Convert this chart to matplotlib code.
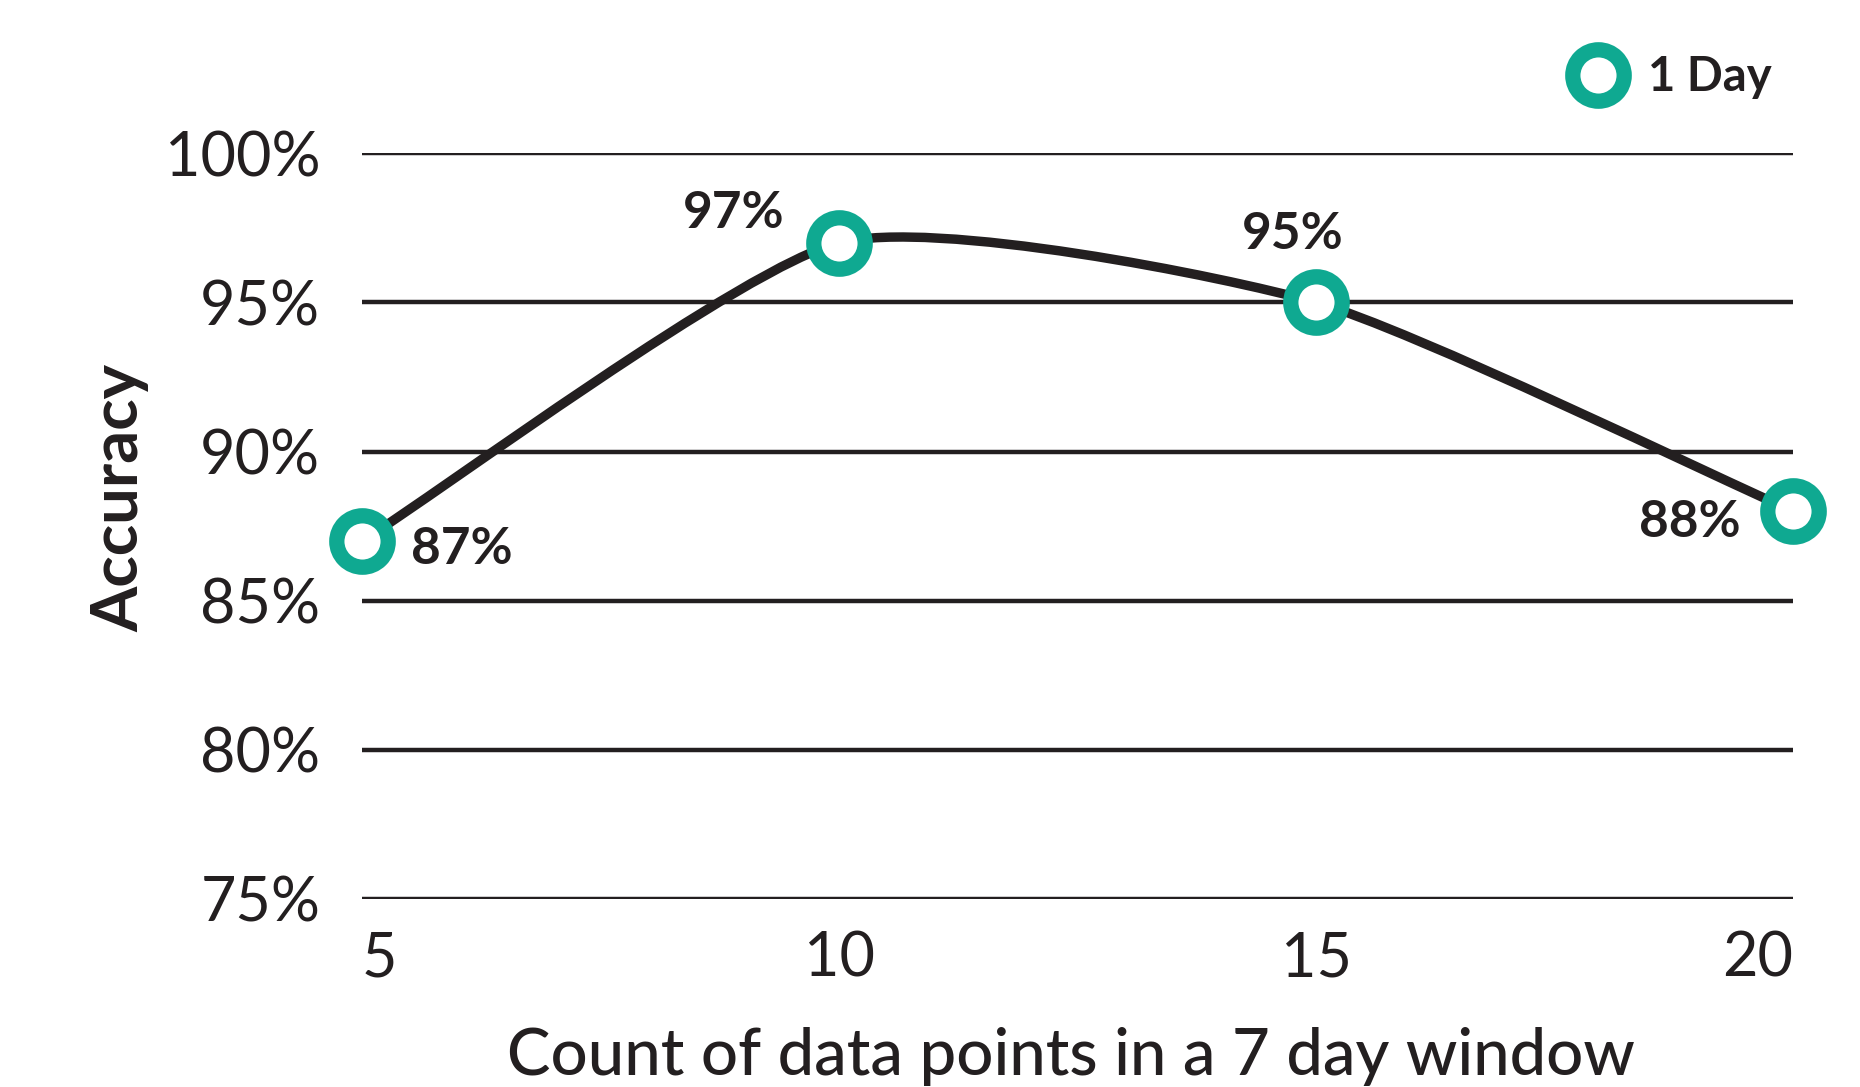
import numpy as np
import matplotlib
matplotlib.use("Agg")
import matplotlib.pyplot as plt
from matplotlib.path import Path
from matplotlib.patches import PathPatch

# data
counts = [5, 10, 15, 20]
accuracy = [87, 97, 95, 88]
labels = ["87%", "97%", "95%", "88%"]
yticks = [75, 80, 85, 90, 95, 100]
series_name = "1 Day"

dark = "#231F20"
teal = "#0FA991"

plt.rcParams['font.family'] = ['Lato', 'DejaVu Sans']

fig = plt.figure(figsize=(18.6, 10.87), dpi=100)
ax = fig.add_axes([0.1946, 0.173, 0.7695, 0.686])

# smooth curve through the points (cardinal spline drawn as bezier segments)
pts = np.column_stack([counts, accuracy]).astype(float)
n = len(pts)
k = [1.0 if i in (0, n - 1) else 0.6 for i in range(n)]
verts = [pts[0]]
codes = [Path.MOVETO]
for i in range(n - 1):
    p0 = pts[max(i - 1, 0)]
    p1 = pts[i]
    p2 = pts[i + 1]
    p3 = pts[min(i + 2, n - 1)]
    c1 = p1 + k[i] * (p2 - p0) / 6
    c2 = p2 - k[i + 1] * (p3 - p1) / 6
    verts += [c1, c2, p2]
    codes += [Path.CURVE4] * 3
curve = PathPatch(Path(verts, codes), facecolor="none", edgecolor=dark,
                  lw=6.8, capstyle="round", zorder=3, clip_on=False)
ax.add_patch(curve)

ax.plot(counts, accuracy, linestyle="none", marker="o", ms=37, mew=11,
        mfc="white", mec=teal, zorder=4, clip_on=False, label=series_name)

# value labels
offsets = [(35, -6, "left"), (-76, 21, "center"), (-17, 49, "center"), (-38, -8, "right")]
for x, y, lab, (dx, dy, ha) in zip(counts, accuracy, labels, offsets):
    ax.annotate(lab, (x, y), xytext=(dx, dy), textcoords="offset points",
                ha=ha, va="center", fontsize=37, fontweight="bold", color=dark,
                annotation_clip=False)

ax.set_yticks(yticks)
ax.set_yticklabels([f"{t}%" for t in yticks])
ax.set_xticks(counts)
ax.set_xticklabels([str(c) for c in counts])
ax.set_xlim(5, 20)
ax.set_ylim(75, 100)
xt = ax.get_xticklabels()
xt[0].set_ha("left")
xt[-1].set_ha("right")
ax.tick_params(axis="y", length=0, pad=30, labelsize=44, labelcolor=dark)
ax.tick_params(axis="x", length=0, pad=23, labelsize=44, labelcolor=dark)

for s in ax.spines.values():
    s.set_visible(False)
ax.yaxis.grid(True, color=dark, lw=3.2)
ax.xaxis.grid(False)
ax.set_axisbelow(True)

fig.text(0.0645, 0.542, "Accuracy", rotation=90, ha="center", va="center",
         fontsize=47, fontweight="bold", color=dark)
fig.text(0.576, 0.0285, "Count of data points in a 7 day window", ha="center",
         va="center", fontsize=47, fontweight="medium", color=dark)

leg = ax.legend(loc="center left", bbox_to_anchor=(0.834, 0.929),
                bbox_transform=fig.transFigure, frameon=False, handletextpad=0.55,
                handlelength=1.0, borderpad=0, prop={"size": 34, "weight": "bold"})
for t in leg.get_texts():
    t.set_color(dark)

fig.savefig("out.png", dpi=100, facecolor="white")
